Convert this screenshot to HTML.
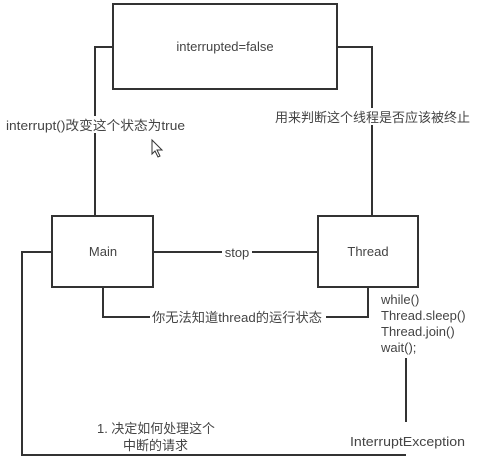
<!DOCTYPE html>
<html><head><meta charset="utf-8"><style>
html,body{margin:0;padding:0;background:#fff;width:477px;height:465px;overflow:hidden}
text{font-family:"Liberation Sans","Noto Sans CJK SC",sans-serif;font-size:13px;fill:#444}
</style></head><body>
<svg width="477" height="465" xmlns="http://www.w3.org/2000/svg">
<g stroke="#333" stroke-width="2" fill="none">
<rect x="113" y="4" width="224" height="85"/>
<polyline points="113,47 95,47 95,216"/>
<polyline points="337,47 372,47 372,216"/>
<rect x="52" y="216" width="101" height="71"/>
<rect x="318" y="216" width="100" height="71"/>
<line x1="153" y1="252" x2="318" y2="252"/>
<polyline points="52,252 22,252 22,455 406,455"/>
<polyline points="103,287 103,317 368,317 368,287"/>
<line x1="406" y1="358" x2="406" y2="422"/>
</g>
<g fill="#fff">
<rect x="4" y="116" width="186" height="17"/>
<rect x="273" y="108" width="202" height="17"/>
<rect x="222" y="244" width="30" height="16"/>
<rect x="150" y="309" width="176" height="16"/>
</g>
<text x="225" y="51" text-anchor="middle">interrupted=false</text>
<text x="6" y="130" textLength="179" lengthAdjust="spacingAndGlyphs">interrupt()改变这个状态为true</text>
<text x="275" y="122" textLength="195" lengthAdjust="spacingAndGlyphs">用来判断这个线程是否应该被终止</text>
<text x="103" y="256" text-anchor="middle">Main</text>
<text x="368" y="256" text-anchor="middle">Thread</text>
<text x="237" y="257" text-anchor="middle">stop</text>
<text x="152" y="322" textLength="170" lengthAdjust="spacingAndGlyphs">你无法知道thread的运行状态</text>
<text x="381" y="304">while()</text>
<text x="381" y="320">Thread.sleep()</text>
<text x="381" y="336">Thread.join()</text>
<text x="381" y="352">wait();</text>
<text x="350" y="446" textLength="115" lengthAdjust="spacingAndGlyphs">InterruptException</text>
<text x="97" y="433" textLength="118" lengthAdjust="spacingAndGlyphs">1. 决定如何处理这个</text>
<text x="123" y="450">中断的请求</text>
<path d="M152,140 L152,154 L155,151 L158,157 L160,156 L157,150 L162,150 Z" fill="#fff" stroke="#333" stroke-width="1"/>
</svg>
</body></html>
